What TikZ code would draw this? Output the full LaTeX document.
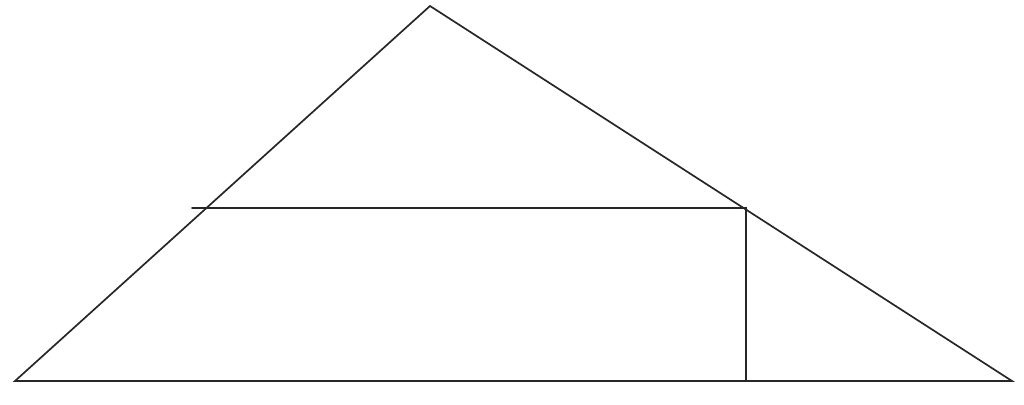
\documentclass[tikz,border=0pt]{standalone}
\usepackage{tikz}
\usetikzlibrary{calc}
\tikzset{%
  edgeLine/.style={%
    line width=1.2pt,
    color=black!85,
    line cap=round
  }
}
\begin{document}
\begin{tikzpicture}[x=0.025cm,y=0.025cm]
    \useasboundingbox (0,0) rectangle (1024,405);

    % Triangle corners
    \coordinate (apex) at (430,399);
    \coordinate (baseLeft) at (15,24);
    \coordinate (baseRight) at (1012,24);

    % Inner rectangle corners
    \coordinate (topLeft) at (192,197);
    \coordinate (topRight) at (746,197);
    \coordinate (footRight) at (746,24);

    \draw[edgeLine] (baseLeft) -- (apex) -- (baseRight) -- cycle;
    \draw[edgeLine] (topLeft) -- (topRight) -- (footRight);
\end{tikzpicture}
\end{document}
